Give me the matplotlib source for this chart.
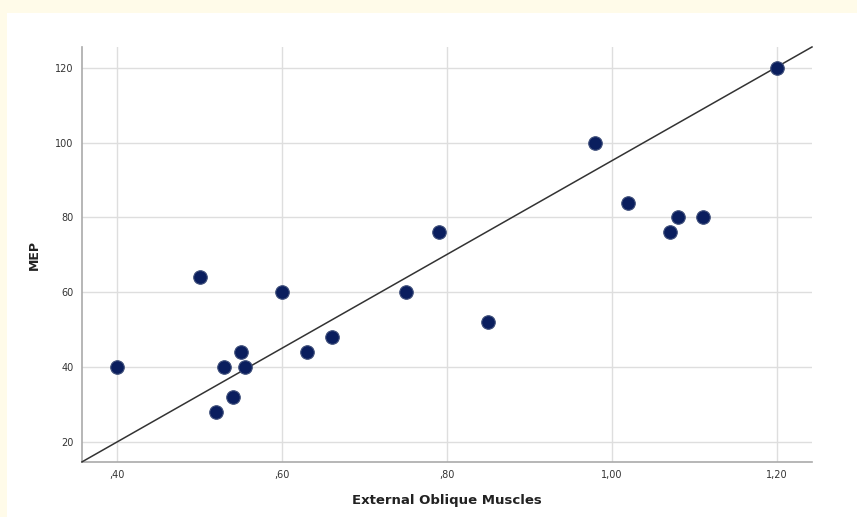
import numpy as np
import matplotlib.pyplot as plt
from matplotlib.patches import Rectangle

# data
eom = [0.40, 0.50, 0.52, 0.53, 0.54, 0.55, 0.555, 0.60, 0.63, 0.66,
       0.75, 0.79, 0.85, 0.98, 1.02, 1.07, 1.08, 1.11, 1.20]
mep = [40, 64, 28, 40, 32, 44, 40, 60, 44, 48,
       60, 76, 52, 100, 84, 76, 80, 80, 120]
x_ticks = [0.4, 0.6, 0.8, 1.0, 1.2]
x_labels = [',40', ',60', ',80', '1,00', '1,20']
y_ticks = [20, 40, 60, 80, 100, 120]
fit_slope = 125.4
fit_icpt = -30.2

fig = plt.figure(figsize=(8.57, 5.17), dpi=100)
fig.patch.set_facecolor('#fffbe9')
# white panel
fig.add_artist(Rectangle((7/857, 0), 1, 1 - 13/517, transform=fig.transFigure,
                         facecolor='white', edgecolor='none', zorder=0))

ax = fig.add_axes([82/857, 55/517, 730/857, 415/517])
ax.set_facecolor('white')

xl = (0.3575, 1.2425)
ax.set_xlim(xl)
ax.set_ylim(14.6, 125.6)

ax.set_xticks(x_ticks)
ax.set_xticklabels(x_labels)
ax.set_yticks(y_ticks)
ax.tick_params(length=0, labelsize=7, labelcolor='#333333', pad=6)
ax.grid(True, color='#dedede', linewidth=1)
ax.set_axisbelow(True)

for s in ['top', 'right']:
    ax.spines[s].set_visible(False)
for s in ['left', 'bottom']:
    ax.spines[s].set_color('#aaaaaa')
    ax.spines[s].set_linewidth(1.2)

xs = np.array(xl)
ax.plot(xs, fit_slope * xs + fit_icpt, color='#333333', linewidth=1.1,
        clip_on=False, zorder=3)

ax.scatter(eom, mep, s=95, color='#0a1e5e', edgecolors='#3f4f7a',
           linewidths=0.8, zorder=4, clip_on=False)

ax.set_xlabel('External Oblique Muscles', fontsize=9.5, fontweight='bold',
              color='#222222', labelpad=10)
ax.set_ylabel('MEP', fontsize=9, fontweight='bold', color='#222222',
              labelpad=10)

fig.savefig('out.png', dpi=100, facecolor=fig.get_facecolor())
